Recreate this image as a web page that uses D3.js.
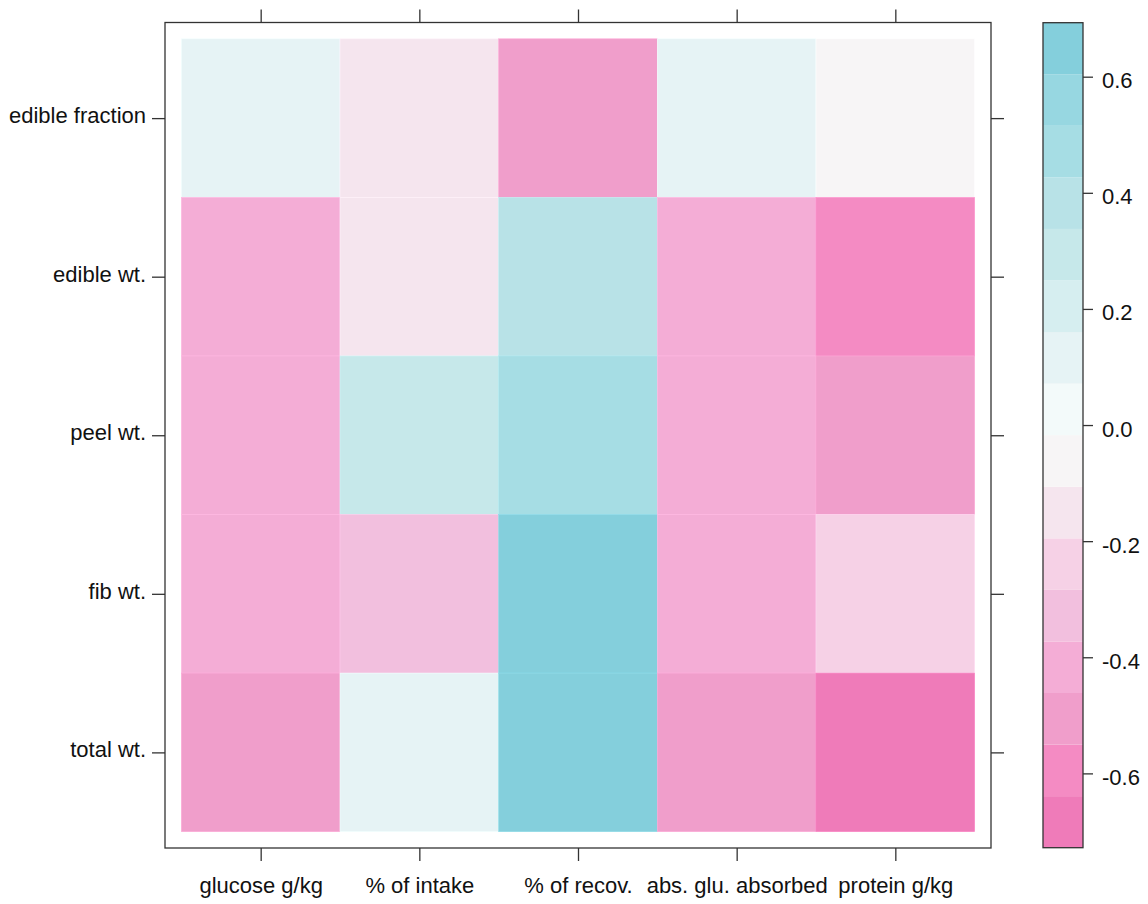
<!DOCTYPE html>
<html>
<head>
<meta charset="utf-8">
<script src="https://cdn.jsdelivr.net/npm/d3@7"></script>
<style>
  html, body { margin: 0; padding: 0; background: #ffffff; }
  svg { display: block; font-family: "Liberation Sans", Arial, sans-serif; }
</style>
</head>
<body>
<svg id="chart" width="1148" height="904"></svg>
<script>
// ---- data ----
const columns = ["glucose g/kg", "% of intake", "% of recov.", "abs. glu. absorbed", "protein g/kg"];
const rows = ["edible fraction", "edible wt.", "peel wt.", "fib wt.", "total wt."];
// values per row (same order as columns)
const edibleFraction = [0.12, -0.15, -0.50, 0.11, -0.05];
const edibleWt       = [-0.42, -0.14, 0.37, -0.41, -0.60];
const peelWt         = [-0.42, 0.29, 0.47, -0.42, -0.51];
const fibWt          = [-0.41, -0.33, 0.66, -0.42, -0.24];
const totalWt        = [-0.50, 0.10, 0.67, -0.49, -0.69];
const rowValues = [edibleFraction, edibleWt, peelWt, fibWt, totalWt];

const levelMin = -0.728, levelMax = 0.693, levelCount = 16;
const keyTicks = [-0.6, -0.4, -0.2, 0.0, 0.2, 0.4, 0.6];
const keyTickLabels = ["-0.6", "-0.4", "-0.2", "0.0", "0.2", "0.4", "0.6"];
const levelColors = [
  "#EF7BB9", "#F48BC3", "#F09ECB", "#F4ADD6", "#F2BFDE", "#F6D1E6", "#F5E5EE", "#F7F5F6",
  "#F3FAFA", "#E6F3F5", "#D6EEF0", "#C6E8EA", "#B8E2E7", "#A6DDE4", "#97D7E1", "#84CFDC"
];

// ---- layout ----
const svg = d3.select("#chart");
const panel = { left: 165, right: 991, top: 22.5, bottom: 848 };
const pad = 0.103;
const fontSize = 22;

const x = d3.scaleLinear().domain([0.5 - pad, columns.length + 0.5 + pad]).range([panel.left, panel.right]);
const y = d3.scaleLinear().domain([0.5 - pad, rows.length + 0.5 + pad]).range([panel.top, panel.bottom]);

const breaks = d3.range(levelCount + 1).map(i => levelMin + i * (levelMax - levelMin) / levelCount);
const color = d3.scaleThreshold().domain(breaks.slice(1, -1)).range(levelColors);

// cells
const cells = [];
rowValues.forEach((vals, ri) => vals.forEach((v, ci) => cells.push({ r: ri + 1, c: ci + 1, v })));

svg.append("g").selectAll("rect").data(cells).enter().append("rect")
  .attr("x", d => x(d.c - 0.5))
  .attr("y", d => y(d.r - 0.5))
  .attr("width", d => x(d.c + 0.5) - x(d.c - 0.5))
  .attr("height", d => y(d.r + 0.5) - y(d.r - 0.5))
  .attr("fill", d => color(d.v))
  .attr("stroke", d => d3.color(color(d.v)).brighter(0.15))
  .attr("stroke-width", 0.6);

// panel border
svg.append("rect")
  .attr("x", panel.left).attr("y", panel.top)
  .attr("width", panel.right - panel.left).attr("height", panel.bottom - panel.top)
  .attr("fill", "none").attr("stroke", "#333").attr("stroke-width", 1.3);

const colIdx = columns.map((_, i) => i + 1);
const rowIdx = rows.map((_, i) => i + 1);
const tickLen = 13;

// bottom axis
const axB = svg.append("g").attr("transform", `translate(0,${panel.bottom})`)
  .call(d3.axisBottom(x).tickValues(colIdx).tickFormat((d) => columns[d - 1]).tickSize(tickLen).tickSizeOuter(0).tickPadding(16));
// top axis
const axT = svg.append("g").attr("transform", `translate(0,${panel.top})`)
  .call(d3.axisTop(x).tickValues(colIdx).tickFormat("").tickSize(tickLen).tickSizeOuter(0));
// left axis
const axL = svg.append("g").attr("transform", `translate(${panel.left},0)`)
  .call(d3.axisLeft(y).tickValues(rowIdx).tickFormat((d) => rows[d - 1]).tickSize(tickLen).tickSizeOuter(0).tickPadding(6));
// right axis
const axR = svg.append("g").attr("transform", `translate(${panel.right},0)`)
  .call(d3.axisRight(y).tickValues(rowIdx).tickFormat("").tickSize(tickLen).tickSizeOuter(0));

[axB, axT, axL, axR].forEach(g => {
  g.select(".domain").remove();
  g.selectAll(".tick line").attr("stroke", "#333").attr("stroke-width", 1.3);
  g.selectAll(".tick text").attr("font-size", fontSize).attr("fill", "#111")
    .attr("font-family", "Liberation Sans, Arial, sans-serif");
});
axL.selectAll(".tick text").attr("dy", "0.2em");

// ---- colour key ----
const key = { left: 1043, right: 1083, top: 22.7, bottom: 847.7 };
const ky = d3.scaleLinear().domain([levelMin, levelMax]).range([key.bottom, key.top]);
const bands = d3.range(levelCount).map(i => ({ lo: breaks[i], hi: breaks[i + 1], col: levelColors[i] }));

svg.append("g").selectAll("rect").data(bands).enter().append("rect")
  .attr("x", key.left)
  .attr("y", d => ky(d.hi))
  .attr("width", key.right - key.left)
  .attr("height", d => ky(d.lo) - ky(d.hi))
  .attr("fill", d => d.col);

svg.append("rect")
  .attr("x", key.left).attr("y", key.top)
  .attr("width", key.right - key.left).attr("height", key.bottom - key.top)
  .attr("fill", "none").attr("stroke", "#333").attr("stroke-width", 1.3);

const axK = svg.append("g").attr("transform", `translate(${key.right},0)`)
  .call(d3.axisRight(ky).tickValues(keyTicks).tickFormat((d, i) => keyTickLabels[i]).tickSize(10).tickSizeOuter(0).tickPadding(9));
axK.select(".domain").remove();
axK.selectAll(".tick line").attr("stroke", "#333").attr("stroke-width", 1.3);
axK.selectAll(".tick text").attr("font-size", fontSize).attr("fill", "#111").attr("dy", "0.5em")
  .attr("font-family", "Liberation Sans, Arial, sans-serif");
</script>
</body>
</html>
